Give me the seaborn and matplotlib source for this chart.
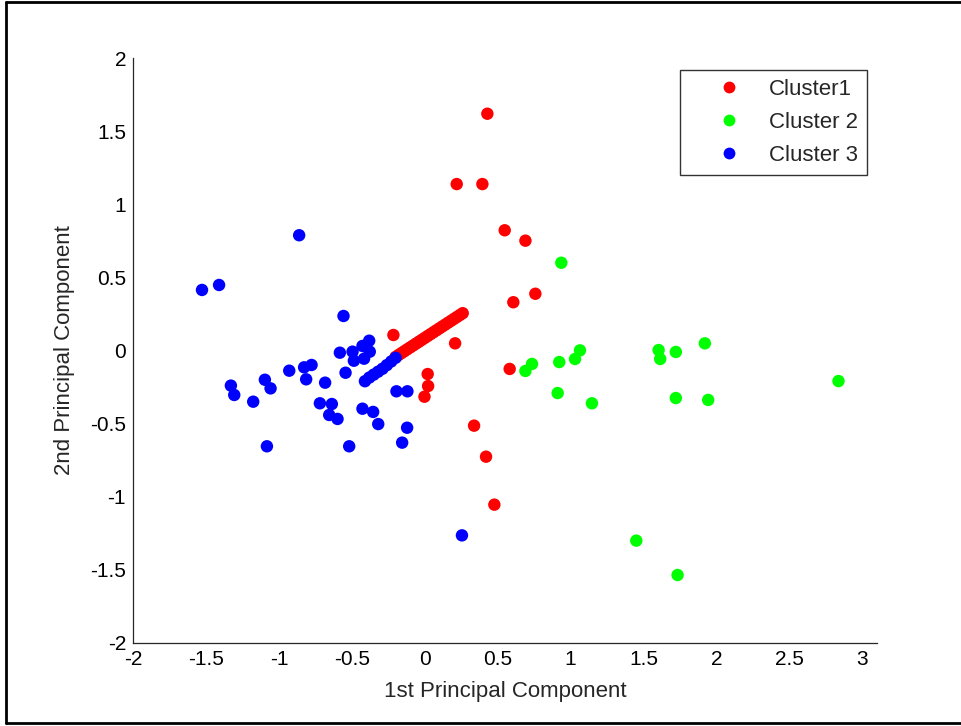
import matplotlib
matplotlib.use("Agg")
import matplotlib.pyplot as plt
import seaborn as sns
import pandas as pd
from matplotlib.lines import Line2D

# ---- data ----
c1_x = [0.429, 0.219, 0.395, 0.548, 0.690, 0.758, 0.607, 0.208, 0.582, -0.215,
        0.020, 0.023, -0.002, 0.338, 0.420, 0.477,
        -0.20, -0.18, -0.16, -0.14, -0.12, -0.10, -0.08, -0.06, -0.04, -0.02,
        0.00, 0.02, 0.04, 0.06, 0.08, 0.10, 0.12, 0.14, 0.16, 0.18, 0.20,
        0.22, 0.24, 0.26]
c1_y = [1.619, 1.138, 1.138, 0.822, 0.751, 0.388, 0.330, 0.049, -0.126, 0.106,
        -0.161, -0.243, -0.316, -0.514, -0.726, -1.054,
        -0.044, -0.031, -0.018, -0.005, 0.008, 0.021, 0.034, 0.047, 0.060, 0.073,
        0.086, 0.099, 0.112, 0.125, 0.138, 0.151, 0.164, 0.177, 0.190, 0.203, 0.216,
        0.229, 0.242, 0.255]

c2_x = [0.936, 0.735, 0.690, 0.922, 1.064, 1.030, 0.911, 1.146, 1.603, 1.614,
        1.721, 1.920, 1.721, 1.943, 2.836, 1.450, 1.733]
c2_y = [0.600, -0.092, -0.140, -0.079, 0.001, -0.058, -0.291, -0.361, 0.003, -0.058,
        -0.010, 0.049, -0.325, -0.338, -0.209, -1.300, -1.535]

c3_x = [-0.861, -1.527, -1.410, -0.557, -0.381, -0.427, -0.582, -0.495, -0.377, -0.486,
        -0.416, -0.827, -0.776, -0.929, -0.543, -0.813, -0.683, -1.329, -1.096, -1.057,
        -1.306, -1.176, -0.719, -0.637, -0.655, -0.598, -0.427, -0.354, -0.319, -0.194,
        -0.119, -0.121, -0.155, -1.082, -0.518, 0.255,
        -0.41, -0.38, -0.35, -0.32, -0.29, -0.26, -0.23, -0.20]
c3_y = [0.788, 0.414, 0.448, 0.236, 0.067, 0.031, -0.015, -0.008, -0.008, -0.070,
        -0.056, -0.115, -0.099, -0.138, -0.152, -0.197, -0.220, -0.240, -0.200, -0.259,
        -0.304, -0.350, -0.361, -0.366, -0.441, -0.468, -0.398, -0.420, -0.503, -0.279,
        -0.279, -0.528, -0.630, -0.655, -0.655, -1.264,
        -0.210, -0.185, -0.165, -0.145, -0.125, -0.100, -0.075, -0.050]

labels = ["Cluster1", "Cluster 2", "Cluster 3"]
colors = ["#FF0000", "#00FF00", "#0000FF"]
x_ticks = [-2, -1.5, -1, -0.5, 0, 0.5, 1, 1.5, 2, 2.5, 3]
x_tick_labels = ["-2", "-1.5", "-1", "-0.5", "0", "0.5", "1", "1.5", "2", "2.5", "3"]
y_ticks = [-2, -1.5, -1, -0.5, 0, 0.5, 1, 1.5, 2]
y_tick_labels = ["-2", "-1.5", "-1", "-0.5", "0", "0.5", "1", "1.5", "2"]

df = pd.DataFrame({
    "x": c1_x + c2_x + c3_x,
    "y": c1_y + c2_y + c3_y,
    "cluster": [labels[0]] * len(c1_x) + [labels[1]] * len(c2_x) + [labels[2]] * len(c3_x),
})

sns.set_style("white")
plt.rcParams["font.family"] = ["Liberation Sans", "DejaVu Sans"]

fig = plt.figure(figsize=(9.61, 7.26), dpi=100)
ax = fig.add_axes([133 / 961, 1 - 643 / 726, (877 - 133) / 961, (643 - 58) / 726])

sns.scatterplot(data=df, x="x", y="y", hue="cluster", hue_order=labels,
                palette=dict(zip(labels, colors)), s=80, linewidth=0,
                edgecolor="none", ax=ax, legend=False)

ax.set_xlim(-2, 3.1)
ax.set_ylim(-2, 2)
ax.set_xticks(x_ticks)
ax.set_xticklabels(x_tick_labels)
ax.set_yticks(y_ticks)
ax.set_yticklabels(y_tick_labels)
ax.tick_params(direction="in", length=6, width=0.8, colors="#262626",
               labelsize=15, labelcolor="black")
ax.tick_params(axis="y", pad=5)
ax.tick_params(axis="x", pad=5)
for side in ["top", "right"]:
    ax.spines[side].set_visible(False)
for side in ["left", "bottom"]:
    ax.spines[side].set_color("#262626")
    ax.spines[side].set_linewidth(0.9)
ax.set_xlabel("1st Principal Component", fontsize=16, labelpad=9)
ax.set_ylabel("2nd Principal Component", fontsize=16, labelpad=11)

handles = [Line2D([0], [0], marker="o", linestyle="none", markersize=8.5,
                  markerfacecolor=c, markeredgecolor="none") for c in colors]
leg = ax.legend(handles, labels, loc="upper right", bbox_to_anchor=(867 / 961, 1 - 70 / 726),
                bbox_transform=fig.transFigure, fontsize=16, frameon=True,
                fancybox=False, edgecolor="black", handletextpad=0.0,
                borderpad=0.4, labelspacing=0.54, handlelength=3.6, borderaxespad=0)
leg.get_frame().set_linewidth(1.0)

# outer figure frame
fig.add_artist(Line2D([6 / 961, 6 / 961], [1 - 2 / 726, 1 - 723 / 726],
                      transform=fig.transFigure, color="black", lw=2))
fig.add_artist(Line2D([6 / 961, 1], [1 - 2 / 726, 1 - 2 / 726],
                      transform=fig.transFigure, color="black", lw=2))
fig.add_artist(Line2D([6 / 961, 1], [1 - 723 / 726, 1 - 723 / 726],
                      transform=fig.transFigure, color="black", lw=2))

fig.savefig("out.png", dpi=100)
